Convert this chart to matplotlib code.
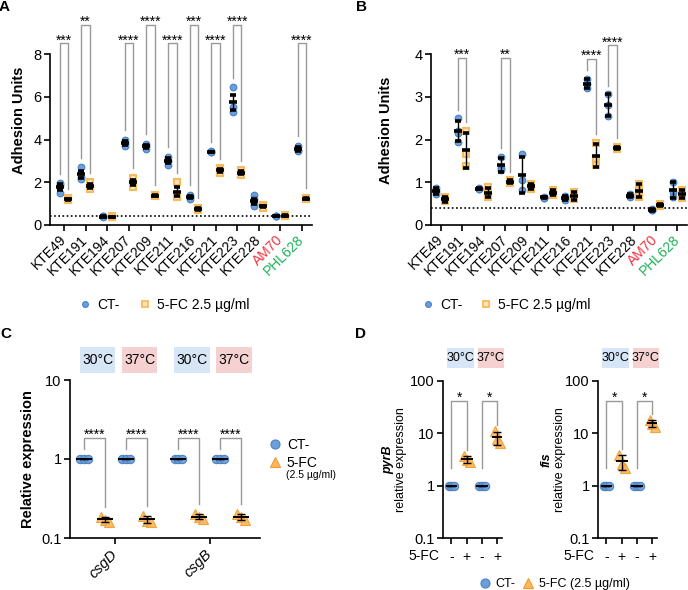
import numpy as np
import matplotlib as mplt
mplt.use('Agg')
import matplotlib.pyplot as plt
import matplotlib.transforms as mtrans
from matplotlib.patches import Rectangle
from matplotlib.lines import Line2D
from matplotlib.ticker import NullLocator

plt.rcParams['font.family'] = ['Liberation Sans', 'DejaVu Sans']

W, H = 688, 590

# ---- data ----
strains = ['KTE49', 'KTE191', 'KTE194', 'KTE207', 'KTE209', 'KTE211',
           'KTE216', 'KTE221', 'KTE223', 'KTE228', 'AM70', 'PHL628']
strain_colors = ['black'] * 10 + ['#f2323f', '#1fb25a']
cutoff = 0.4

# panel A (mean +/- SEM)
a_ct = [[1.95, 1.85, 1.5], [2.7, 2.25, 2.15], [0.4, 0.4, 0.38], [4.0, 3.85, 3.7],
        [3.8, 3.7, 3.55], [3.2, 3.0, 2.8], [1.4, 1.3, 1.2], [3.45, 3.42, 3.4],
        [6.45, 5.5, 5.3], [1.4, 1.2, 1.0, 0.88], [0.4, 0.4, 0.4], [3.7, 3.5, 3.45]]
a_fc = [[1.25, 1.2, 1.15], [2.0, 1.8, 1.7], [0.4, 0.37, 0.36], [2.2, 2.0, 1.8],
        [1.4, 1.37, 1.35], [2.0, 1.4, 1.3], [0.8, 0.75, 0.7], [2.65, 2.55, 2.45],
        [2.55, 2.45, 2.35], [0.95, 0.85, 0.8], [0.47, 0.43, 0.4], [1.28, 1.22, 1.2]]
a_sig_idx = [0, 1, 3, 4, 5, 6, 7, 8, 11]
a_sig_txt = ['***', '**', '****', '****', '****', '***', '****', '****', '****']
a_sig_top = [8.5, 9.37, 8.5, 9.37, 8.5, 9.37, 8.5, 9.37, 8.5]

# panel B (mean +/- SD)
b_ct = [[0.86, 0.8, 0.73], [2.5, 2.2, 2.15, 1.93], [0.87, 0.85, 0.84], [1.6, 1.33, 1.28],
        [1.65, 1.05, 0.82], [0.66, 0.64, 0.63], [0.68, 0.63, 0.58], [3.42, 3.3, 3.2],
        [3.06, 2.8, 2.56], [0.73, 0.68, 0.66], [0.37, 0.35, 0.34], [1.01, 0.78, 0.65]]
b_fc = [[0.66, 0.6, 0.55], [2.2, 1.65, 1.38], [0.88, 0.73, 0.66], [1.05, 1.0, 0.98],
        [0.96, 0.9, 0.85], [0.81, 0.75, 0.7], [0.78, 0.68, 0.6], [1.92, 1.55, 1.4],
        [1.83, 1.8, 1.77], [0.96, 0.78, 0.66], [0.49, 0.46, 0.44], [0.82, 0.72, 0.64]]
b_sig_idx = [1, 3, 7, 8]
b_sig_txt = ['***', '**', '****', '****']
b_sig_top = [3.9, 3.9, 3.88, 4.2]

# panel C
c_genes = ['csgD', 'csgB']
temps = ['30°C', '37°C']
c_ct = [[1, 1, 1], [1, 1, 1], [1, 1, 1], [1, 1, 1]]
c_fc = [[0.185, 0.17, 0.16], [0.19, 0.165, 0.16], [0.2, 0.185, 0.175], [0.2, 0.185, 0.17]]
c_sig = ['****', '****', '****', '****']

# panel D
d_genes = ['pyrB', 'fis']
d_ct = [[[1, 1, 1], [1, 1, 1]], [[1, 1, 1], [1, 1, 1]]]
d_fc = [[[3.7, 3.1, 2.8], [11.0, 7.8, 6.4]], [[3.9, 2.6, 2.2], [18.0, 15.0, 13.5]]]
d_sig = ['*', '*']
d_ticklabels = ['-', '+', '-', '+']

BLUE, BLUE_E = '#6c9fda', '#4a80c4'
ORANGE, ORANGE_E = '#f9b860', '#f29b2e'
SQ_FACE, SQ_EDGE = '#fde3b8', '#f8ba5e'
BOX_COLS = ['#d6e6f7', '#f5d1d1']
GREY = '#999999'

fig = plt.figure(figsize=(W / 100, H / 100), dpi=100)


def px_axes(x0, y0, x1, y1):
    return fig.add_axes([x0 / W, 1 - y1 / H, (x1 - x0) / W, (y1 - y0) / H])


def style(ax):
    ax.spines['top'].set_visible(False)
    ax.spines['right'].set_visible(False)
    ax.spines['left'].set_linewidth(1.2)
    ax.spines['bottom'].set_linewidth(1.2)
    ax.tick_params(labelsize=10.5, length=4, width=1.2, pad=2)
    ax.set_facecolor('none')


def stars(ax, x, y, txt):
    ax.annotate(txt, xy=(x, y), xytext=(0, -1), textcoords='offset pixels',
                ha='center', va='baseline', fontsize=10, annotation_clip=False)


def ylab(ax, xpx, txt, **kw):
    tr = mtrans.blended_transform_factory(fig.transFigure, ax.transAxes)
    ax.text(xpx / W, 0.5, txt, transform=tr, rotation=90, ha='center', va='center', **kw)


def legend_row(handle, label, x, y, size):
    # one legend entry, marker centre at (x, y) figure pixels
    em = size * 100 / 72
    fig.legend([handle], [label], loc='center left',
               bbox_to_anchor=((x - em / 2) / W, 1 - y / H), frameon=False, fontsize=size,
               handlelength=1.0, handletextpad=0.35, borderpad=0, borderaxespad=0)


def adhesion(ax, ct, fc, err, sig_idx, sig_txt, sig_top, gap):
    off = 0.2
    for i in range(len(strains)):
        for vals, dx, kw in [(ct[i], -off, dict(marker='o', ms=4.8, mfc=BLUE, mec=BLUE_E, mew=0.8)),
                             (fc[i], off, dict(marker='s', ms=4.6, mfc=SQ_FACE, mec=SQ_EDGE, mew=1.5))]:
            v = np.array(vals)
            ax.plot([i + dx] * len(v), v, ls='none', zorder=3, clip_on=False, **kw)
            e = v.std(ddof=1) if err == 'sd' else v.std(ddof=1) / np.sqrt(len(v))
            ax.errorbar(i + dx, v.mean(), yerr=e, fmt='_', color='k', ms=5.5, mew=2.6,
                        capsize=2, elinewidth=1, capthick=1, zorder=4, clip_on=False)
    for i, t, top in zip(sig_idx, sig_txt, sig_top):
        y1 = max(ct[i]) + gap
        y2 = max(fc[i]) + gap
        ax.plot([i - off, i - off, i + off, i + off], [y1, top, top, y2], color=GREY, lw=1,
                clip_on=False, zorder=2)
        stars(ax, i, top, t)
    ax.axhline(cutoff, color='k', ls=(0, (1, 1.5)), lw=1.2, zorder=2)
    ax.set_xticks(range(len(strains)))
    ax.set_xticklabels(strains, rotation=45, ha='right', va='center', rotation_mode='anchor', fontsize=10)
    for lab, c in zip(ax.get_xticklabels(), strain_colors):
        lab.set_color(c)
    ax.tick_params(axis='x', pad=5)


# ---- panel A ----
axA = px_axes(50, 15, 312, 225)
style(axA)
axA.set_xlim(-0.65, 11.46)
axA.set_ylim(0, 8 + 39 / 21.375)
axA.spines['left'].set_bounds(0, 8)
axA.set_yticks([0, 2, 4, 6, 8])
adhesion(axA, a_ct, a_fc, 'sem', a_sig_idx, a_sig_txt, a_sig_top, 0.45)
ylab(axA, 19, 'Adhesion Units', fontsize=10.5, fontweight='bold')

# ---- panel B ----
axB = px_axes(431, 35, 687, 225)
style(axB)
axB.set_xlim(-0.45, 11.45)
axB.set_ylim(0, 4 + 19 / 42.75)
axB.spines['left'].set_bounds(0, 4)
axB.set_yticks([0, 1, 2, 3, 4])
adhesion(axB, b_ct, b_fc, 'sd', b_sig_idx, b_sig_txt, b_sig_top, 0.2)
ylab(axB, 386, 'Adhesion Units', fontsize=10.5, fontweight='bold')

# legends A / B
h_ab = [Line2D([], [], ls='none', marker='o', ms=4.2, mfc=BLUE, mec=BLUE_E, mew=0.8),
        Line2D([], [], ls='none', marker='s', ms=4.2, mfc=SQ_FACE, mec=SQ_EDGE, mew=1.3)]
for xc, xs in [(85, 145), (428, 486)]:
    legend_row(h_ab[0], 'CT-', xc, 305, 10)
    legend_row(h_ab[1], '5-FC 2.5 µg/ml', xs, 305, 10)


def expr_points(ax, x, vals, kind):
    v = np.array(vals)
    offs = np.array([-0.18, 0.0, 0.18])[:len(v)]
    if kind == 'ct':
        ax.plot(x + offs, v, ls='none', marker='o', ms=6.0, mfc=BLUE, mec=BLUE_E, mew=0.8,
                alpha=0.95, zorder=3, clip_on=False)
    else:
        ax.plot(x + offs, v, ls='none', marker='^', ms=7.2, mfc=ORANGE, mec=ORANGE_E, mew=0.8,
                alpha=0.9, zorder=3, clip_on=False)
    m = v.mean()
    ax.hlines(m, x - 0.38, x + 0.38, color='k', lw=1.4, zorder=4)
    ax.errorbar(x, m, yerr=v.std(ddof=1), fmt='none', ecolor='k', elinewidth=1, capsize=3,
                capthick=1, zorder=4)


def temp_box(ax, xc, width, y0, y1, txt, col, size):
    tr = mtrans.blended_transform_factory(ax.transData, ax.transAxes)
    ax.add_patch(Rectangle((xc - width / 2, y0), width, y1 - y0, transform=tr, fc=col, ec='none',
                           clip_on=False))
    ax.text(xc, (y0 + y1) / 2, txt, transform=tr, ha='center', va='center', fontsize=size)


# ---- panel C ----
axC = px_axes(70, 380, 260, 538)
style(axC)
axC.set_yscale('log')
axC.set_ylim(0.1, 10)
axC.set_xlim(-0.67, 8.4)
axC.set_yticks([0.1, 1, 10])
axC.set_yticklabels(['0.1', '1', '10'])
axC.yaxis.set_minor_locator(NullLocator())
k = 0
for g in range(len(c_genes)):
    for t in range(len(temps)):
        xct = g * 4.5 + 2 * t
        expr_points(axC, xct, c_ct[k], 'ct')
        expr_points(axC, xct + 1, c_fc[k], 'fc')
        top = 1.85
        axC.plot([xct, xct, xct + 1, xct + 1], [max(c_ct[k]) * 1.32, top, top, max(c_fc[k]) * 1.35],
                 color=GREY, lw=1, clip_on=False, zorder=2)
        stars(axC, xct + 0.5, top, c_sig[k])
        temp_box(axC, xct + 0.65, 1.7, 1.044, 1.209, temps[t], BOX_COLS[t], 10)
        k += 1
axC.set_xticks([g * 4.5 + 1.5 for g in range(len(c_genes))])
axC.set_xticklabels(c_genes, rotation=45, ha='right', va='center', rotation_mode='anchor',
                    fontsize=10.5, style='italic')
axC.tick_params(axis='x', pad=6)
ylab(axC, 28, 'Relative expression', fontsize=10.5, fontweight='bold')

h_c = [Line2D([], [], ls='none', marker='o', ms=6.5, mfc=BLUE, mec=BLUE_E, mew=0.8),
       Line2D([], [], ls='none', marker='^', ms=7.5, mfc=ORANGE, mec=ORANGE_E, mew=0.8)]
legend_row(h_c[0], 'CT-', 275, 445, 10)
legend_row(h_c[1], '5-FC', 275, 463, 10)
fig.text(286 / W, 1 - 475 / H, '(2.5 µg/ml)', fontsize=7.5, va='center')

# ---- panel D ----
for gi, (x0, x1, lx_name, lx_rel) in enumerate([(443, 502, 388, 401), (598, 657, 547, 560)]):
    ax = px_axes(x0, 381, x1, 538)
    style(ax)
    ax.set_yscale('log')
    ax.set_ylim(0.1, 100)
    ax.set_xlim(-0.55, 3.3)
    ax.set_yticks([0.1, 1, 10, 100])
    ax.set_yticklabels(['0.1', '1', '10', '100'])
    ax.yaxis.set_minor_locator(NullLocator())
    for t in range(len(temps)):
        xct = 2 * t
        expr_points(ax, xct, d_ct[gi][t], 'ct')
        expr_points(ax, xct + 1, d_fc[gi][t], 'fc')
        top = 42
        ax.plot([xct, xct, xct + 1, xct + 1], [2.2, top, top, max(d_fc[gi][t]) * 1.3],
                color=GREY, lw=1, clip_on=False, zorder=2)
        stars(ax, xct + 0.5, top, d_sig[t])
        temp_box(ax, xct + 0.58, 1.75, 1.083, 1.21, temps[t], BOX_COLS[t], 9)
    ax.set_xticks(range(4))
    ax.set_xticklabels(d_ticklabels, fontsize=10)
    ax.tick_params(axis='x', pad=5)
    ax.annotate('5-FC', xy=(0, 0), xycoords='axes fraction', xytext=(-4, -18),
                textcoords='offset pixels', ha='right', va='center', fontsize=10)
    ylab(ax, lx_name, d_genes[gi], fontsize=9, fontweight='bold', style='italic')
    ylab(ax, lx_rel, 'relative expression', fontsize=9)

h_d = [Line2D([], [], ls='none', marker='o', ms=6.5, mfc=BLUE, mec=BLUE_E, mew=0.8),
       Line2D([], [], ls='none', marker='^', ms=7.5, mfc=ORANGE, mec=ORANGE_E, mew=0.8)]
legend_row(h_d[0], 'CT-', 485, 584, 9)
legend_row(h_d[1], '5-FC (2.5 µg/ml)', 528, 584, 9)

# panel letters
for lbl, x, y in [('A', 4, 7), ('B', 361, 7), ('C', 6, 334), ('D', 360, 334)]:
    fig.text(x / W, 1 - y / H, lbl, fontsize=11, fontweight='bold', ha='center', va='center')

fig.savefig('out.png', dpi=100)
